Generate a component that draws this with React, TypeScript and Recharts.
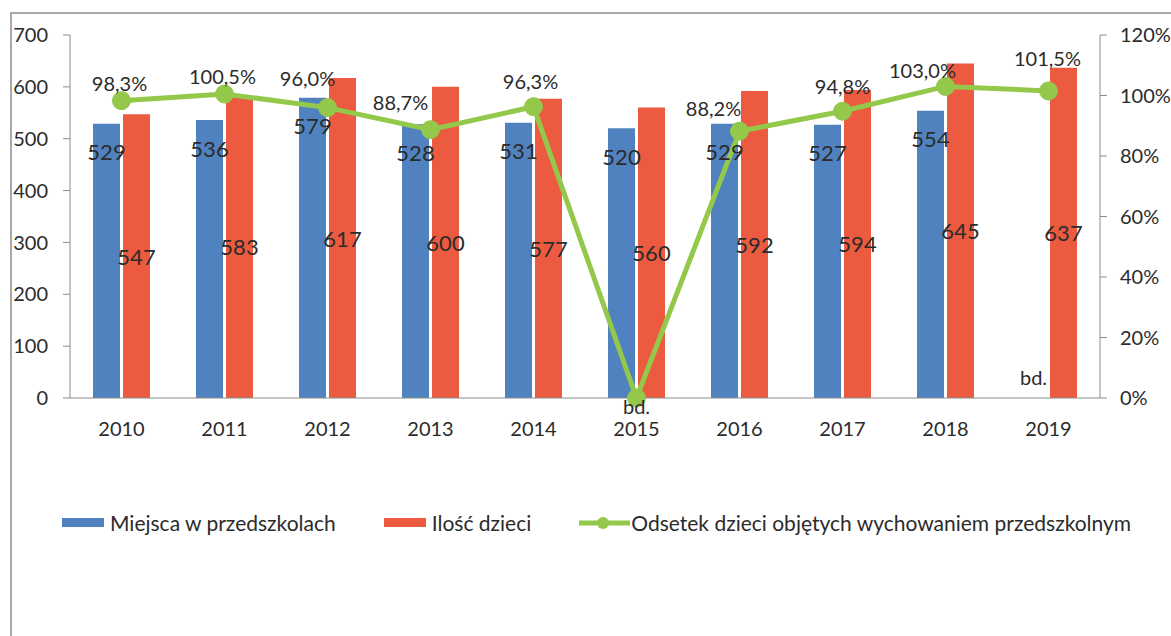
import { Bar, ComposedChart, LabelList, Line, XAxis, YAxis } from "recharts";

const years = ["2010", "2011", "2012", "2013", "2014", "2015", "2016", "2017", "2018", "2019"];
// 2019: no data ("bd.")
const placesValues: Array<number | null> = [529, 536, 579, 528, 531, 520, 529, 527, 554, null];
const childrenValues = [547, 583, 617, 600, 577, 560, 592, 594, 645, 637];
// 2015: no data ("bd."), drawn at 0 like the original
const shareValues = [98.3, 100.5, 96.0, 88.7, 96.3, 0, 88.2, 94.8, 103.0, 101.5];
const leftTicks = [0, 100, 200, 300, 400, 500, 600, 700];
const rightTicks = [0, 20, 40, 60, 80, 100, 120];

const seriesNames = {
    places: "Miejsca w przedszkolach",
    children: "Ilość dzieci",
    share: "Odsetek dzieci objętych wychowaniem przedszkolnym",
};

const BLUE = "#4f82bf";
const RED = "#ec5a3f";
const GREEN = "#93c84a";
const TEXT = "#2b2b2b";
const AXIS = "#8c8c8c";
const FONT = "Lato, 'Open Sans', sans-serif";

// hand-moved percentage labels in the original
const labelNudge: Record<number, { dx: number; dy: number }> = {
    2: { dx: -20, dy: -30 },
    3: { dx: -30, dy: -28 },
    4: { dx: -3, dy: -26 },
    6: { dx: -26, dy: -23 },
    7: { dx: 0, dy: -25 },
    8: { dx: -23, dy: -16 },
    9: { dx: -1, dy: -33 },
};

const chartData = years.map((year, i) => ({
    year,
    places: placesValues[i],
    children: childrenValues[i],
    share: shareValues[i],
}));

const formatShare = (v: number) => `${v.toFixed(1).replace(".", ",")}%`;

const PlacesLabel = (props: any) => {
    const { x, y, width, value } = props;
    if (value == null) return null;
    return (
        <text x={x + width / 2} y={y + 28} textAnchor="middle" dominantBaseline="central"
            fontSize={22} fill={TEXT} fontFamily={FONT}>
            {value}
        </text>
    );
};

const ChildrenLabel = (props: any) => {
    const { x, y, width, height, value, index } = props;
    return (
        <g>
            <text x={x + width / 2} y={y + height / 2} textAnchor="middle" dominantBaseline="central"
                fontSize={22} fill={TEXT} fontFamily={FONT}>
                {value}
            </text>
            {placesValues[index] == null && (
                <text x={x - 3 - width / 2} y={y + height - 21} textAnchor="middle" dominantBaseline="central"
                    fontSize={20} fill={TEXT} fontFamily={FONT}>
                    bd.
                </text>
            )}
        </g>
    );
};

const ShareLabel = (props: any) => {
    const { x, y, value, index } = props;
    if (value === 0) {
        return (
            <text x={x} y={y + 8} textAnchor="middle" dominantBaseline="central"
                fontSize={20} fill={TEXT} fontFamily={FONT}>
                bd.
            </text>
        );
    }
    const nudge = labelNudge[index] ?? { dx: -2, dy: -18 };
    return (
        <text x={x + nudge.dx} y={y + nudge.dy} textAnchor="middle" dominantBaseline="central"
            fontSize={20} fill={TEXT} fontFamily={FONT}>
            {formatShare(value)}
        </text>
    );
};

const legendItems = [
    { name: seriesNames.places, color: BLUE, kind: "bar" },
    { name: seriesNames.children, color: RED, kind: "bar" },
    { name: seriesNames.share, color: GREEN, kind: "line" },
];

function ChartLegend() {
    return (
        <div style={{
            position: "absolute", left: 62, top: 510, display: "flex", alignItems: "center",
            gap: 48, fontFamily: FONT, fontSize: 21, color: TEXT, whiteSpace: "nowrap",
        }}>
            {legendItems.map((item) => (
                <div key={item.name} style={{ display: "flex", alignItems: "center" }}>
                    {item.kind === "bar" ? (
                        <span style={{ display: "inline-block", width: 42, height: 9, background: item.color, marginRight: 6 }} />
                    ) : (
                        <svg width={51} height={14} style={{ marginRight: 1 }}>
                            <line x1={0} y1={7} x2={51} y2={7} stroke={item.color} strokeWidth={5} />
                            <circle cx={24} cy={7} r={6} fill={item.color} />
                        </svg>
                    )}
                    <span>{item.name}</span>
                </div>
            ))}
        </div>
    );
}

export default function App() {
    return (
        <div style={{ position: "fixed", left: 0, top: 0, width: 1171, height: 636, background: "#fff", overflow: "hidden" }}>
            <div style={{
                position: "absolute", left: 10, top: 12, width: 1200, height: 700,
                borderLeft: "2px solid #a8a8a8", borderTop: "2px solid #a8a8a8",
            }} />
            <ComposedChart
                width={1171}
                height={636}
                data={chartData}
                margin={{ top: 35, right: 0, left: 10, bottom: 198 }}
                barGap={3}
                style={{ position: "absolute", left: 0, top: 0 }}
            >
                <XAxis
                    dataKey="year"
                    tickLine={false}
                    tickSize={6}
                    tickMargin={18}
                    height={40}
                    stroke={AXIS}
                    tick={{ fontSize: 20, fill: TEXT, fontFamily: FONT }}
                />
                <YAxis
                    yAxisId="left"
                    domain={[0, 700]}
                    ticks={leftTicks}
                    width={60}
                    tickSize={7}
                    tickMargin={15}
                    stroke={AXIS}
                    tick={{ fontSize: 20, fill: TEXT, fontFamily: FONT }}
                />
                <YAxis
                    yAxisId="right"
                    orientation="right"
                    domain={[0, 120]}
                    ticks={rightTicks}
                    width={71}
                    tickSize={7}
                    tickMargin={13}
                    stroke={AXIS}
                    tickFormatter={(v) => `${v}%`}
                    tick={{ fontSize: 20, fill: TEXT, fontFamily: FONT, textAnchor: "start" }}
                />
                <Bar yAxisId="left" dataKey="places" name={seriesNames.places} fill={BLUE} barSize={27} isAnimationActive={false}>
                    <LabelList dataKey="places" content={PlacesLabel} />
                </Bar>
                <Bar yAxisId="left" dataKey="children" name={seriesNames.children} fill={RED} barSize={27} isAnimationActive={false}>
                    <LabelList dataKey="children" content={ChildrenLabel} />
                </Bar>
                <Line
                    yAxisId="right"
                    dataKey="share"
                    name={seriesNames.share}
                    stroke={GREEN}
                    strokeWidth={5}
                    dot={{ r: 9, fill: GREEN, stroke: GREEN, strokeWidth: 1 }}
                    activeDot={false}
                    isAnimationActive={false}
                >
                    <LabelList dataKey="share" content={ShareLabel} />
                </Line>
            </ComposedChart>
            <ChartLegend />
        </div>
    );
}
